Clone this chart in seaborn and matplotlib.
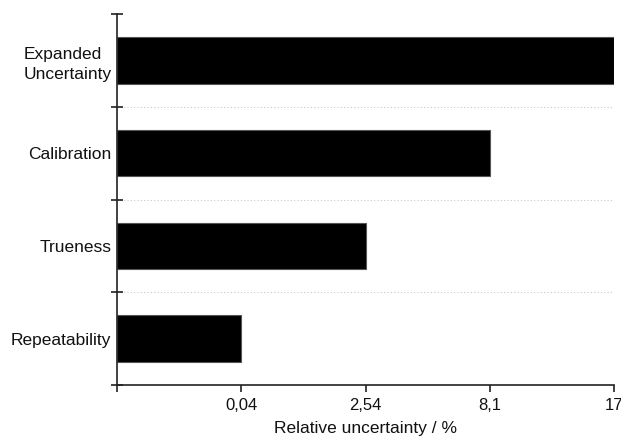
import numpy as np
import pandas as pd
import matplotlib
matplotlib.use("Agg")
import matplotlib.pyplot as plt
import seaborn as sns
from matplotlib.ticker import FixedLocator

categories = ["Expanded\nUncertainty", "Calibration", "Trueness", "Repeatability"]
values = [17, 8.1, 2.54, 0.04]
tick_values = [0, 0.04, 2.54, 8.1, 17]
tick_labels = ["", "0,04", "2,54", "8,1", "17"]

sns.set_style("white")
plt.rcParams["font.family"] = ["Liberation Sans", "DejaVu Sans"]

fig = plt.figure(figsize=(6.21, 4.38), dpi=100)
ax = fig.add_axes([117/621, 1-385/438, (614-117)/621, (385-14)/438])

df = pd.DataFrame({"cat": categories, "val": values})
sns.barplot(data=df, x="val", y="cat", orient="h", color="black",
            width=0.5, edgecolor="#555555", linewidth=0.8, saturation=1, ax=ax)

pos = list(range(len(tick_values)))
def fwd(x):
    return np.interp(x, tick_values, pos)
def inv(x):
    return np.interp(x, pos, tick_values)
ax.set_xscale("function", functions=(fwd, inv))
ax.set_xlim(0, 17)
ax.set_ylim(len(categories) - 0.5, -0.5)

ax.set_xticks(tick_values)
ax.set_xticklabels(tick_labels, fontsize=12)
ax.xaxis.set_minor_locator(FixedLocator([]))
ax.tick_params(axis="x", which="major", bottom=True, direction="out", length=5,
               width=1.2, color="#222222", pad=4, labelcolor="#111111")

bounds = [i - 0.5 for i in range(len(categories) + 1)]
ax.yaxis.set_minor_locator(FixedLocator(bounds))
ax.tick_params(axis="y", which="major", left=False, length=0, pad=4,
               labelsize=12.5, labelcolor="#111111")
ax.tick_params(axis="y", which="minor", left=True, direction="inout", length=8,
               width=1.2, color="#222222")
for lab in ax.get_yticklabels():
    lab.set_multialignment("left")
    lab.set_linespacing(1.45)
for b in bounds[1:-1]:
    ax.axhline(b, color="#c8c8c8", linestyle=(0, (1, 2)), linewidth=0.8, zorder=0, xmax=0.995)

for s in ["top", "right"]:
    ax.spines[s].set_visible(False)
for s in ["left", "bottom"]:
    ax.spines[s].set_linewidth(1.2)
    ax.spines[s].set_color("#222222")

ax.set_ylabel("")
ax.set_xlabel("Relative uncertainty / %", fontsize=12.5, labelpad=6, color="#111111")

fig.savefig("out.png", dpi=100)
